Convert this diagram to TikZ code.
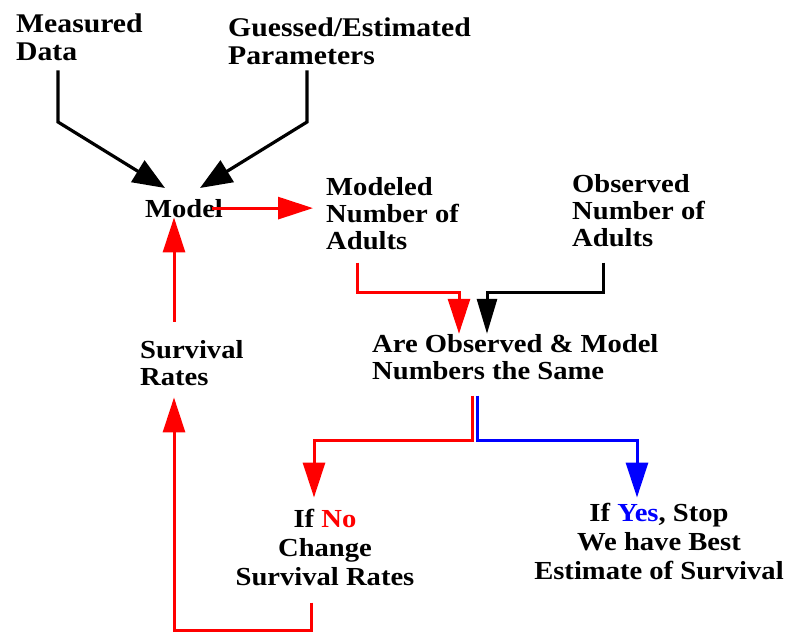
\documentclass[tikz,border=0pt]{standalone}
\usepackage{fontspec}
\setmainfont{Liberation Serif}[FakeStretch=1.1]
\usepackage{xcolor}
\usetikzlibrary{arrows.meta,calc}

\begin{document}
\begin{tikzpicture}[x=1pt, y=-1pt]
  \tikzstyle{lbl}=[font=\fontsize{26}{27}\selectfont\bfseries, inner sep=0pt, align=left]
  \tikzstyle{toplbl}=[lbl, font=\fontsize{27}{28}\selectfont\bfseries]
  \tikzstyle{lowlbl}=[lbl, font=\fontsize{26}{29}\selectfont\bfseries, align=center]
  \tikzstyle{blk}=[line width=3.2pt, -{Triangle[length=32pt, width=25pt]}]
  \tikzstyle{blkb}=[line width=3pt, -{Triangle[length=35pt, width=20pt]}]
  \tikzstyle{redl}=[red, line width=3pt, -{Triangle[length=35pt, width=22pt]}]
  \tikzstyle{blul}=[blue, line width=3pt, -{Triangle[length=35pt, width=22pt]}]
  \useasboundingbox (0,0) rectangle (787,632);

  % labels (base = last line)
  \node[toplbl, anchor=base west] (measured) at (16,60) {Measured\\Data};
  \node[toplbl, anchor=base west] (guessed) at (228,64) {Guessed/Estimated\\Parameters};
  \node[lbl, anchor=base] (model) at (184,217) {Model};
  \node[lbl, anchor=base west] (modeled) at (326,249) {Modeled\\Number of\\Adults};
  \node[lbl, anchor=base west] (observed) at (572,246) {Observed\\Number of\\Adults};
  \node[lbl, anchor=base west] (same) at (372,379) {Are Observed \& Model\\Numbers the Same};
  \node[lbl, anchor=base west] (survival) at (140,385) {Survival\\Rates};
  \node[lowlbl, anchor=base] (ifno) at (325,585) {If \textcolor{red}{No}\\Change\\Survival Rates};
  \node[lowlbl, anchor=base] (ifyes) at (659,579) {If \textcolor{blue}{Yes}, Stop\\We have Best\\Estimate of Survival};

  % bends
  \coordinate (mbend) at (58,122);
  \coordinate (mtip) at (165,188);
  \coordinate (gbend) at (307,122);
  \coordinate (gtip) at (200,188);
  \coordinate (rbend1) at (357,292);
  \coordinate (rbend2) at (459,292);
  \coordinate (bbend1) at (603,292);
  \coordinate (bbend2) at (487,292);
  \coordinate (nosplit) at (472,440);
  \coordinate (nobend) at (314,440);
  \coordinate (yessplit) at (477,440);
  \coordinate (yesbend) at (637,440);
  \coordinate (loopr) at (311,630);
  \coordinate (loopl) at (174,630);

  % connectors
  \draw[blk] ([yshift=-10pt]measured.south -| mbend) -- (mbend) -- (mtip);
  \draw[blk] ([yshift=-6pt]guessed.south -| gbend) -- (gbend) -- (gtip);
  \draw[redl] ([xshift=-11pt]model.east) -- ([xshift=-13pt]modeled.west |- model.east);
  \draw[redl] ([yshift=-13pt]modeled.south -| rbend1) -- (rbend1) -- (rbend2) -- (rbend2 |- same.north);
  \draw[blkb] ([yshift=-16pt]observed.south -| bbend1) -- (bbend1) -- (bbend2) -- (bbend2 |- same.north);
  \draw[redl] ([yshift=-16pt]same.south -| nosplit) -- (nosplit) -- (nobend) -- ([yshift=11pt]nobend |- ifno.north);
  \draw[blul] ([yshift=-16pt]same.south -| yessplit) -- (yessplit) -- (yesbend) -- ([yshift=11pt]yesbend |- ifno.north);
  \draw[redl] ([yshift=-17pt]ifno.south -| loopr) -- (loopr) -- (loopl) -- ([yshift=-12pt]loopl |- survival.south);
  \draw[redl] ([yshift=18pt]survival.north -| loopl) -- (loopl |- model.south);
\end{tikzpicture}
\end{document}
